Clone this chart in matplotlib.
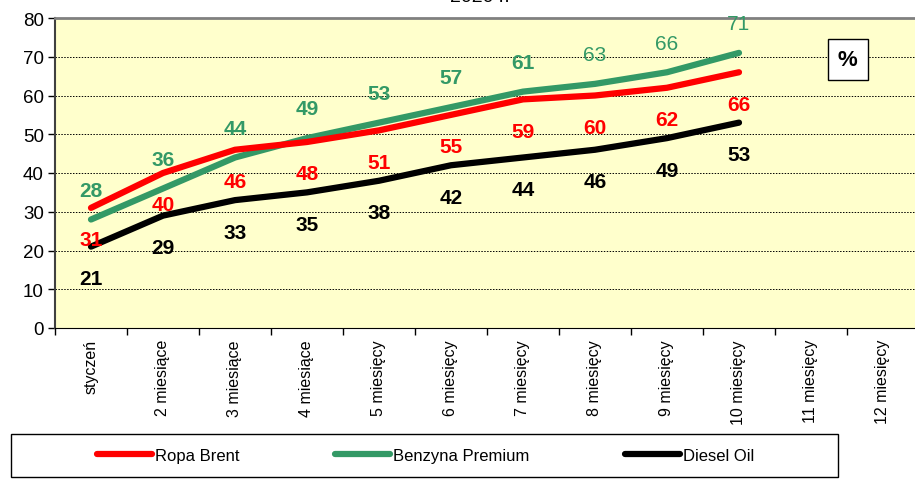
import numpy as np
import matplotlib
matplotlib.use("Agg")
import matplotlib.pyplot as plt
from matplotlib.patches import Rectangle

plt.rcParams['font.family'] = ['Liberation Sans', 'DejaVu Sans']

months = ['styczeń', '2 miesiące', '3 miesiące', '4 miesiące', '5 miesięcy',
          '6 miesięcy', '7 miesięcy', '8 miesięcy', '9 miesięcy',
          '10 miesięcy', '11 miesięcy', '12 miesięcy']
brent = [31, 40, 46, 48, 51, 55, 59, 60, 62, 66]
benzyna = [28, 36, 44, 49, 53, 57, 61, 63, 66, 71]
diesel = [21, 29, 33, 35, 38, 42, 44, 46, 49, 53]
# the last three green labels are drawn in normal weight in the original
benzyna_bold = [True] * 7 + [False] * 3

RED = '#FF0000'
GREEN = '#339966'
BG = '#FFFFCC'

W, H = 915, 489
fig = plt.figure(figsize=(W / 100, H / 100), dpi=100)
ax = fig.add_axes([55 / W, (H - 329) / H, 864 / W, 310 / H])
ax.set_facecolor(BG)

x = np.arange(len(brent))
ax.plot(x, brent, color=RED, lw=4.5, solid_capstyle='round', label='Ropa Brent', zorder=4)
ax.plot(x, benzyna, color=GREEN, lw=4.5, solid_capstyle='round', label='Benzyna Premium', zorder=3)
ax.plot(x, diesel, color='black', lw=4.5, solid_capstyle='round', label='Diesel Oil', zorder=5)

for i, v in enumerate(benzyna):
    ax.annotate(str(v), (i, v), xytext=(0, 21), textcoords='offset points',
                ha='center', va='center', fontsize=15, color=GREEN,
                fontweight='bold' if benzyna_bold[i] else 'normal', zorder=6)
for i, v in enumerate(brent):
    ax.annotate(str(v), (i, v), xytext=(0, -23), textcoords='offset points',
                ha='center', va='center', fontsize=15, color=RED,
                fontweight='bold', zorder=6)
for i, v in enumerate(diesel):
    ax.annotate(str(v), (i, v), xytext=(0, -23), textcoords='offset points',
                ha='center', va='center', fontsize=15, color='black',
                fontweight='bold', zorder=6)

ax.set_xlim(-0.5, len(months) - 0.5)
ax.set_ylim(0, 80)
ax.set_yticks(range(0, 81, 10))
ax.yaxis.grid(True, linestyle=(0, (1.5, 1.5)), color='black', lw=0.7)
ax.set_axisbelow(True)
ax.tick_params(axis='y', labelsize=13.5, length=5, width=1, direction='out', pad=3)

ax.set_xticks(np.arange(-0.5, len(months), 1))
ax.set_xticklabels([])
ax.set_xticks(np.arange(len(months)), minor=True)
ax.set_xticklabels(months, minor=True, rotation=90, fontsize=11.5)
ax.tick_params(axis='x', which='major', length=5, width=1, direction='out')
ax.tick_params(axis='x', which='minor', length=0, pad=8)

ax.spines['top'].set_color('#808080')
ax.spines['top'].set_linewidth(2)
ax.spines['left'].set_color('#404040')
ax.spines['left'].set_linewidth(1.5)
ax.spines['bottom'].set_color('black')
ax.spines['right'].set_visible(False)

ax.text(10.51, 69.4, '%', ha='center', va='center',
        fontsize=16, fontweight='bold', zorder=7,
        bbox=dict(boxstyle='square,pad=0.45', fc='white', ec='black', lw=1))

fig.text(450 / W, 1 - 2 / H, '2020 r.', ha='left', va='baseline', fontsize=14)

# legend box
fig.add_artist(Rectangle((10.5 / W, 11 / H), 827.5 / W, 43 / H,
                         transform=fig.transFigure, fill=False, ec='black', lw=1))
fig.legend(loc='center left', bbox_to_anchor=(97 / W, (H - 456.5) / H),
           ncol=3, frameon=False, borderpad=0, borderaxespad=0,
           handlelength=3.3, handletextpad=0.2, columnspacing=5.7,
           prop={'size': 12})

fig.savefig('out.png', dpi=100)
